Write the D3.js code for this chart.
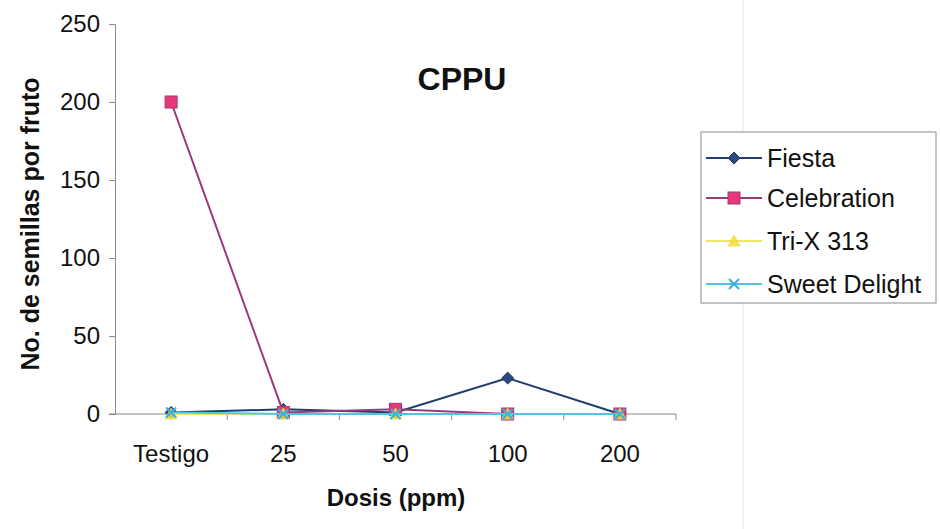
<!DOCTYPE html>
<html>
<head>
<meta charset="utf-8">
<script src="https://cdn.jsdelivr.net/npm/d3@7"></script>
<style>
  html, body { margin: 0; padding: 0; background: #ffffff; }
  svg { display: block; font-family: "Liberation Sans", Arial, sans-serif; }
</style>
</head>
<body>
<svg id="chart" width="940" height="529"></svg>
<script>
const categories = ["Testigo", "25", "50", "100", "200"];
const fiesta = [1, 3, 1, 23, 0];
const celebration = [200, 1, 3, 0, 0];
const trix313 = [0, 0, 0, 0, 0];
const sweetDelight = [1, 0, 0, 0, 0];
const yTicks = [0, 50, 100, 150, 200, 250];
const seriesNames = ["Fiesta", "Celebration", "Tri-X 313", "Sweet Delight"];

const series = [
  { name: seriesNames[0], values: fiesta, line: "#1f3d6e", fill: "#2a4a80", marker: "diamond" },
  { name: seriesNames[1], values: celebration, line: "#9a3a7a", fill: "#e8387a", marker: "square" },
  { name: seriesNames[2], values: trix313, line: "#f0e66a", fill: "#f2dc3a", marker: "triangle" },
  { name: seriesNames[3], values: sweetDelight, line: "#52c4e0", fill: "#3ab0e0", marker: "x" }
];

const svg = d3.select("#chart");
const plotLeft = 115, plotRight = 676, plotTop = 24, plotBottom = 414;
const labelSize = 24;

const x = d3.scaleBand().domain(categories).range([plotLeft, plotRight]).padding(0);
const y = d3.scaleLinear().domain([0, 250]).range([plotBottom, plotTop]);

// faint scan line
svg.append("line").attr("x1", 743).attr("x2", 743).attr("y1", 0).attr("y2", 529)
  .attr("stroke", "#ececec").attr("stroke-width", 1.5);

// Y axis
const yAxis = svg.append("g").attr("transform", `translate(${plotLeft},0)`)
  .call(d3.axisLeft(y).tickValues(yTicks).tickSize(6).tickPadding(9));
yAxis.select(".domain").attr("stroke", "#8a8a8a");
yAxis.selectAll(".tick line").attr("stroke", "#8a8a8a");
yAxis.selectAll("text").attr("font-size", labelSize).attr("fill", "#111")
  .attr("font-family", "Liberation Sans, Arial, sans-serif");

// X axis with ticks at category boundaries
const xAxisG = svg.append("g");
xAxisG.append("line").attr("x1", plotLeft - 6).attr("x2", plotRight).attr("y1", plotBottom).attr("y2", plotBottom)
  .attr("stroke", "#8a8a8a");
const boundaries = categories.map(c => x(c)).concat([x(categories[categories.length - 1]) + x.bandwidth()]);
xAxisG.selectAll(".xt").data(boundaries.slice(1)).enter().append("line")
  .attr("x1", d => d).attr("x2", d => d).attr("y1", plotBottom).attr("y2", plotBottom + 6)
  .attr("stroke", "#8a8a8a");
xAxisG.selectAll(".xl").data(categories).enter().append("text")
  .attr("x", d => x(d) + x.bandwidth() / 2).attr("y", plotBottom + 48)
  .attr("text-anchor", "middle").attr("font-size", labelSize).attr("fill", "#111").text(d => d);

// Titles
svg.append("text").attr("x", 462).attr("y", 90).attr("text-anchor", "middle")
  .attr("font-size", 32).attr("font-weight", "bold").attr("fill", "#111").text("CPPU");
svg.append("text").attr("x", 396).attr("y", 506).attr("text-anchor", "middle")
  .attr("font-size", 24).attr("font-weight", "bold").attr("fill", "#111").text("Dosis (ppm)");
svg.append("text").attr("transform", `translate(39,224) rotate(-90)`)
  .attr("text-anchor", "middle").attr("font-size", 25).attr("font-weight", "bold")
  .attr("fill", "#111").text("No. de semillas por fruto");

function drawMarker(g, type, cx, cy, s) {
  if (type === "diamond") {
    g.append("path").attr("d", `M${cx},${cy - 6}L${cx + 6},${cy}L${cx},${cy + 6}L${cx - 6},${cy}Z`)
      .attr("fill", s.fill).attr("stroke", s.line).attr("stroke-width", 1);
  } else if (type === "square") {
    g.append("rect").attr("x", cx - 6).attr("y", cy - 6).attr("width", 12).attr("height", 12)
      .attr("fill", s.fill).attr("stroke", s.line).attr("stroke-width", 1);
  } else if (type === "triangle") {
    g.append("path").attr("d", `M${cx},${cy - 6}L${cx + 6},${cy + 5}L${cx - 6},${cy + 5}Z`)
      .attr("fill", s.fill).attr("stroke", s.fill).attr("stroke-width", 1).attr("opacity", 0.85);
  } else if (type === "x") {
    g.append("path").attr("d", `M${cx - 5},${cy - 5}L${cx + 5},${cy + 5}M${cx - 5},${cy + 5}L${cx + 5},${cy - 5}`)
      .attr("stroke", s.fill).attr("stroke-width", 2);
  }
}

const line = d3.line().x((d, i) => x(categories[i]) + x.bandwidth() / 2).y(d => y(d));

series.forEach(s => {
  const g = svg.append("g");
  g.append("path").datum(s.values).attr("d", line).attr("fill", "none")
    .attr("stroke", s.line).attr("stroke-width", 2);
  s.values.forEach((v, i) => {
    drawMarker(g, s.marker, x(categories[i]) + x.bandwidth() / 2, y(v), s);
  });
});

// Legend
const lg = svg.append("g");
lg.append("rect").attr("x", 701).attr("y", 132).attr("width", 235).attr("height", 171)
  .attr("fill", "#ffffff").attr("stroke", "#8a8a8a").attr("stroke-width", 1);
const legendY = [158, 198, 241, 284];
series.forEach((s, i) => {
  const ly = legendY[i];
  lg.append("line").attr("x1", 706).attr("x2", 762).attr("y1", ly).attr("y2", ly)
    .attr("stroke", s.line).attr("stroke-width", 2);
  drawMarker(lg, s.marker, 734, ly, s);
  lg.append("text").attr("x", 767).attr("y", ly + 9).attr("font-size", 25)
    .attr("fill", "#111").text(s.name);
});
</script>
</body>
</html>
